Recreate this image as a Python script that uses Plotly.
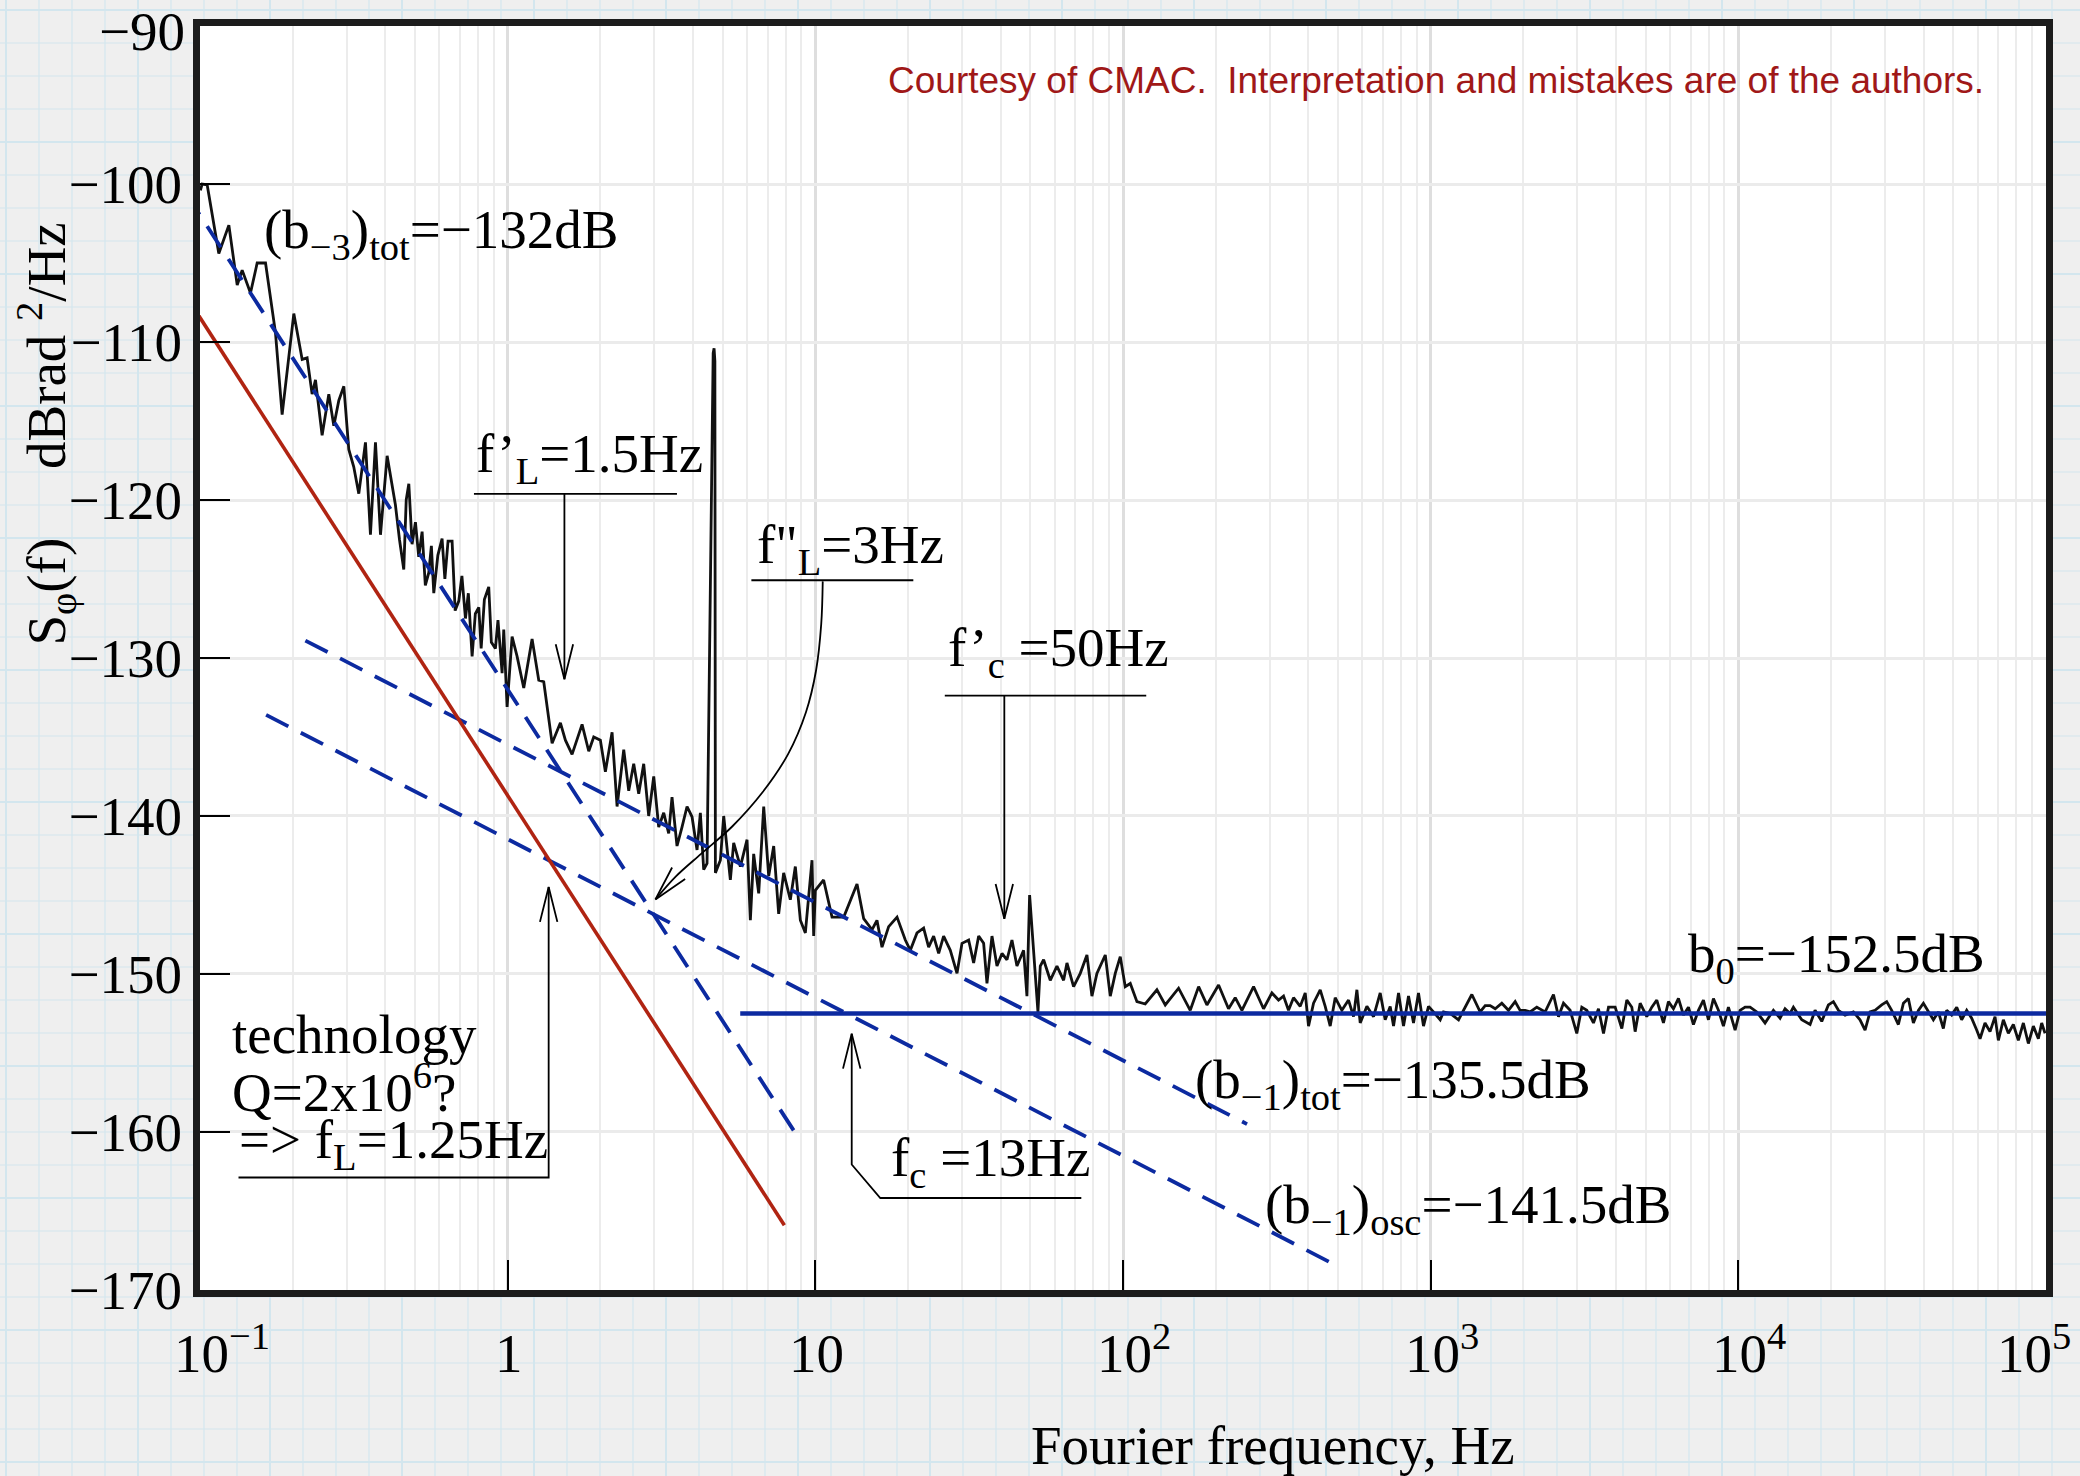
import plotly.graph_objects as go
import math

# ---------------- data ----------------
# Measured phase-noise spectrum S_phi(f)
freq_hz = [
    0.1003, 0.1016, 0.1055, 0.1151, 0.1241, 0.1321, 0.1371, 0.1459, 0.1534, 0.1633,
    0.1759, 0.1849, 0.2018, 0.2148, 0.2229, 0.2314, 0.2373, 0.2494, 0.2622, 0.2722,
    0.2826, 0.2934, 0.3045, 0.3160, 0.3282, 0.3450, 0.3581, 0.3718, 0.3860, 0.4057,
    0.4316, 0.4450, 0.4595, 0.4680, 0.4772, 0.4890, 0.5014, 0.5140, 0.5271, 0.5400,
    0.5541, 0.5650, 0.5752, 0.5930, 0.6121, 0.6250, 0.6400, 0.6597, 0.6750, 0.6935,
    0.7100, 0.7290, 0.7450, 0.7664, 0.7850, 0.8055, 0.8200, 0.8400, 0.8679, 0.8850,
    0.9124, 0.9300, 0.9592,
    0.9711, 0.9957, 1.0336, 1.0730, 1.1279, 1.2005, 1.2619, 1.3099, 1.3946, 1.4839,
    1.5404, 1.6192, 1.7452, 1.8345, 1.9043, 2.0013, 2.0779, 2.1846, 2.2676, 2.3838,
    2.4744, 2.5686, 2.6666, 2.7681, 2.8730, 2.9838, 3.0969, 3.2149, 3.3372, 3.4212,
    3.5515, 3.6867, 3.8282, 3.9739, 4.1257, 4.2297, 4.3362, 4.4463, 4.6550, 4.6870,
    4.7150, 4.7330, 4.9130, 5.0370, 5.2940, 5.4280, 5.7060, 5.9980, 6.1490, 6.3040,
    6.5450, 6.7950, 7.0540, 7.3230, 7.6010, 7.8900, 8.2930, 8.6100, 8.9400, 9.2800,
    9.754, 9.877, 10.0, 10.64, 11.33, 12.37, 13.66, 14.36, 15.29, 15.86,
    16.47, 17.31, 18.43, 19.61, 20.36, 21.40, 22.49, 23.35, 24.24, 25.17,
    26.12, 27.46, 28.87, 29.97, 31.50, 32.70, 33.95, 35.24, 36.13, 37.51,
    38.94, 40.43, 41.96, 43.56, 45.22, 47.53, 48.73, 49.71, 51.22, 52.91,
    53.84, 55.21, 58.02, 61.0, 64.12, 65.74, 69.09, 72.63, 76.35, 79.25,
    82.27, 87.58, 90.92, 94.38, 97.97, 101.7, 105.6,
    111.0, 118.1, 128.9, 137.2, 151.6, 165.4, 176.1, 187.4, 204.5, 220.3,
    231.6, 243.5, 265.7, 286.3, 304.8, 320.3, 332.5, 345.1, 358.3, 376.7,
    391.1, 400.9, 416.2, 437.5, 454.2, 471.5, 489.5, 514.5, 540.8, 561.5,
    575.7, 590.2, 620.4, 652.2, 685.5, 711.6, 738.7, 757.4, 786.3, 816.3,
    847.3, 879.6, 913.0, 947.8, 984.0, 1021, 1074,
    1101, 1157, 1232, 1279, 1361, 1448, 1504, 1561, 1621, 1703,
    1790, 1882, 1953, 2028, 2105, 2213, 2356, 2507, 2603, 2702,
    2840, 2985, 3099, 3217, 3382, 3511, 3646, 3785, 3978, 4181,
    4341, 4506, 4620, 4796, 5040, 5233, 5432, 5710, 5927, 6153,
    6388, 6632, 6884, 7147, 7419, 7702, 7995, 8300, 8616, 8944,
    9286, 9761, 10132, 10520,
    10920, 11480, 12215, 13002, 13668, 14187, 14729, 15101, 16073, 17110,
    17760, 18670, 19620, 20370, 21150, 22230, 23660, 24860, 25820, 26800,
    27820, 29240, 30360, 31510, 33130, 34400, 35700, 37070, 38480, 39950,
    41470, 43050, 44690, 46390, 47560, 49370, 51270, 53210, 55240, 57340,
    59530, 61040, 63360, 65780, 68290, 70010, 72680, 75450, 78320, 81320,
    84410, 87640, 90980, 94450, 96830, 99300,
]
level_db = [
    -100.4, -100.0, -100.05, -104.4, -102.6, -106.4, -105.45, -106.9, -105.0, -105.0,
    -109.4, -114.6, -108.2, -111.1, -111.0, -113.3, -112.4, -115.9, -113.3, -115.3,
    -113.7, -112.8, -116.8, -117.9, -119.6, -116.35, -122.2, -116.35, -122.2, -117.2,
    -120.3, -122.5, -124.4, -120.0, -118.97, -122.8, -121.4, -123.6, -122.0, -125.4,
    -124.6, -122.9, -125.9, -123.5, -122.45, -125.0, -122.6, -122.6, -127.0, -126.4,
    -124.8, -127.5, -125.9, -129.9, -127.2, -126.8, -129.4, -126.3, -125.5, -129.0,
    -129.4, -127.6, -130.96,
    -128.2, -133.1, -128.65, -129.9, -131.9, -128.8, -131.4, -131.5, -135.4, -134.1,
    -135.2, -136.1, -134.2, -135.9, -135.0, -135.2, -137.2, -134.7, -139.4, -135.8,
    -138.4, -136.7, -138.6, -136.7, -140.0, -137.5, -140.7, -139.8, -141.1, -138.8,
    -141.9, -140.7, -139.4, -140.05, -142.15, -139.8, -143.4, -143.0, -110.7, -110.4,
    -111.2, -143.6, -142.8, -140.0, -144.05, -141.7, -143.2, -141.5, -146.6, -142.4,
    -144.9, -139.4, -143.8, -141.9, -146.2, -143.6, -145.3, -143.2, -146.6, -147.4,
    -142.8, -147.6, -144.7, -144.05, -146.4, -146.4, -144.3, -146.5, -147.2, -146.6,
    -148.3, -147.0, -146.4, -147.85, -148.5, -147.4, -147.1, -148.3, -147.6, -148.7,
    -147.6, -148.5, -149.96, -148.06, -147.85, -149.3, -147.6, -148.06, -150.6, -147.6,
    -149.5, -148.7, -149.1, -147.85, -149.5, -148.5, -151.4, -145.0, -148.7, -152.4,
    -149.5, -149.1, -150.4, -149.5, -150.4, -149.3, -150.8, -149.96, -148.8, -151.4,
    -149.96, -148.8, -151.4, -149.96, -148.9, -150.8, -150.6,
    -151.75, -151.9, -151.0, -151.96, -150.9, -152.3, -150.8, -151.96, -150.7, -152.2,
    -151.5, -152.3, -150.8, -152.2, -151.2, -151.65, -151.4, -152.3, -151.5, -152.05,
    -151.2, -153.3, -151.85, -151.0, -152.05, -153.3, -151.5, -152.3, -151.65, -152.7,
    -151.0, -153.1, -152.05, -152.7, -151.2, -152.9, -152.05, -153.3, -151.2, -153.3,
    -151.4, -153.1, -151.2, -153.3, -152.05, -152.4, -152.9,
    -152.4, -152.5, -152.9, -152.3, -151.3, -152.4, -152.0, -152.0, -152.2, -151.85,
    -152.3, -151.75, -152.3, -152.3, -152.4, -152.1, -152.4, -151.3, -152.7, -151.85,
    -152.3, -153.76, -152.1, -152.3, -153.1, -152.2, -153.76, -152.1, -152.1, -153.45,
    -151.65, -152.1, -153.65, -151.85, -152.7, -152.1, -151.65, -153.1, -151.75, -152.2,
    -151.55, -152.6, -152.1, -153.2, -152.3, -151.65, -152.9, -151.55, -152.3, -153.3,
    -152.1, -153.55, -152.3, -152.1,
    -152.1, -152.4, -153.1, -152.3, -152.8, -152.2, -152.5, -152.1, -152.9, -153.2,
    -152.3, -153.0, -151.96, -151.75, -152.3, -152.6, -152.4, -152.9, -153.55, -152.4,
    -152.3, -151.96, -151.75, -152.3, -153.2, -151.85, -151.55, -153.1, -152.3, -151.85,
    -152.4, -152.9, -152.4, -153.45, -152.3, -152.6, -152.1, -152.9, -152.3, -152.8,
    -153.55, -154.1, -153.1, -153.65, -152.7, -154.2, -152.9, -153.76, -153.2, -154.2,
    -153.1, -154.4, -153.3, -154.1, -153.1, -153.76,
]

# Power-law asymptotes (end points)
b_m3_tot_f, b_m3_tot_db = [0.09, 8.5], [-100.6, -159.9]        # (b-3)tot = -132 dB
b_m1_tot_f, b_m1_tot_db = [0.22, 253], [-128.9, -159.5]        # (b-1)tot = -135.5 dB
b_m1_osc_f, b_m1_osc_db = [0.164, 488], [-133.6, -168.4]       # (b-1)osc = -141.5 dB
b_m3_osc_f, b_m3_osc_db = [0.0817, 7.93], [-105.8, -165.9]     # technology limit (red)
b0_f, b0_db = [5.7, 100000], [-152.5, -152.5]                  # b0 = -152.5 dB

# Axis ticks
x_tick_vals = [0.1, 1, 10, 100, 1000, 10000, 100000]
x_tick_text = ["10<sup>\u22121</sup>", "1", "10", "10<sup>2</sup>", "10<sup>3</sup>",
               "10<sup>4</sup>", "10<sup>5</sup>"]
y_tick_vals = [-170, -160, -150, -140, -130, -120, -110, -100, -90]

# Annotation leader lines (f in Hz, level in dB)
fpL_under_f, fpL_under_db = [0.777, 3.55], [-119.61, -119.61]
fpL_shaft_f, fpL_shaft_db = [1.529, 1.529], [-119.61, -131.34]
fppL_under_f, fppL_under_db = [6.196, 20.82], [-125.08, -125.08]
fppL_curve_f = [10.57, 10.45, 10.06, 9.322, 8.155, 6.736, 5.358, 4.262, 3.522, 3.022]
fppL_curve_db = [-125.15, -127.86, -130.76, -133.43, -136.08, -138.50, -140.68, -142.38, -143.82, -145.28]
fpc_under_f, fpc_under_db = [26.35, 119.0], [-132.38, -132.38]
fpc_shaft_f, fpc_shaft_db = [41.14, 41.14], [-132.38, -146.51]
fc_leader_f, fc_leader_db = [73.2, 16.26, 13.13, 13.13], [-164.18, -164.18, -162.06, -153.78]
fL_leader_f, fL_leader_db = [0.1334, 1.359, 1.359], [-162.88, -162.88, -144.49]

# ---------------- figure ----------------
SERIF = "Liberation Serif, Times New Roman, serif"
BLUE = "#0c2aa0"
RED = "#b02412"
FS = 55

W, H = 2080, 1476
L, R, T, B = 200, 34, 26, 186
pw, ph = W - L - R, H - T - B
PX_PER_DEC = pw / 6.0
PX_PER_DB = ph / 80.0


def v_head(f_tip, db_tip, f_from, db_from, length=36, half_angle=14):
    """Open V arrowhead at (f_tip, db_tip) pointing away from (f_from, db_from)."""
    dx = (math.log10(f_from) - math.log10(f_tip)) * PX_PER_DEC
    dy = (db_from - db_tip) * PX_PER_DB
    n = math.hypot(dx, dy)
    ux, uy = dx / n, dy / n
    fs, ds = [], []
    for s in (1, -1):
        a = math.radians(half_angle) * s
        rx = ux * math.cos(a) - uy * math.sin(a)
        ry = ux * math.sin(a) + uy * math.cos(a)
        fs.append(f_tip * 10 ** (length * rx / PX_PER_DEC))
        ds.append(db_tip + length * ry / PX_PER_DB)
    return [fs[0], f_tip, fs[1]], [ds[0], db_tip, ds[1]]


fig = go.Figure()

fig.add_trace(go.Scatter(x=freq_hz, y=level_db, mode="lines",
                         line=dict(color="#111111", width=2.8), hoverinfo="skip"))
for fx, fy in [(b_m3_tot_f, b_m3_tot_db), (b_m1_tot_f, b_m1_tot_db), (b_m1_osc_f, b_m1_osc_db)]:
    fig.add_trace(go.Scatter(x=fx, y=fy, mode="lines",
                             line=dict(color=BLUE, width=3.8, dash="25px,14px"), hoverinfo="skip"))
fig.add_trace(go.Scatter(x=b_m3_osc_f, y=b_m3_osc_db, mode="lines",
                         line=dict(color=RED, width=3.6), hoverinfo="skip"))
fig.add_trace(go.Scatter(x=b0_f, y=b0_db, mode="lines",
                         line=dict(color=BLUE, width=4.5), hoverinfo="skip"))

# leader lines
for fx, fy in [(fpL_under_f, fpL_under_db), (fpL_shaft_f, fpL_shaft_db),
               (fppL_under_f, fppL_under_db), (fpc_under_f, fpc_under_db),
               (fpc_shaft_f, fpc_shaft_db), (fc_leader_f, fc_leader_db),
               (fL_leader_f, fL_leader_db)]:
    fig.add_trace(go.Scatter(x=fx, y=fy, mode="lines",
                             line=dict(color="black", width=1.8), hoverinfo="skip"))
fig.add_trace(go.Scatter(x=fppL_curve_f, y=fppL_curve_db, mode="lines",
                         line=dict(color="black", width=1.8, shape="spline"), hoverinfo="skip"))

# open arrowheads
heads = [
    v_head(fpL_shaft_f[1], fpL_shaft_db[1], fpL_shaft_f[0], fpL_shaft_db[0]),
    v_head(fppL_curve_f[-1], fppL_curve_db[-1], fppL_curve_f[-2], fppL_curve_db[-2]),
    v_head(fpc_shaft_f[1], fpc_shaft_db[1], fpc_shaft_f[0], fpc_shaft_db[0]),
    v_head(fc_leader_f[-1], fc_leader_db[-1], fc_leader_f[-2], fc_leader_db[-2]),
    v_head(fL_leader_f[-1], fL_leader_db[-1], fL_leader_f[-2], fL_leader_db[-2]),
]
for hf, hd in heads:
    fig.add_trace(go.Scatter(x=hf, y=hd, mode="lines",
                             line=dict(color="black", width=1.8), hoverinfo="skip"))

annotations = []


def label(x_hz, y_db, text, size=FS, xanchor="left"):
    annotations.append(dict(x=math.log10(x_hz), y=y_db, xref="x", yref="y", text=text,
                            showarrow=False, xanchor=xanchor, yanchor="middle",
                            font=dict(family=SERIF, size=size, color="black")))


label(0.1585, -103.12, "(b<sub>\u22123</sub>)<sub>tot</sub>=\u2212132dB")
label(0.777, -117.31, "f\u2019<sub>L</sub>=1.5Hz")
label(6.366, -123.06, "f\"<sub>L</sub>=3Hz")
label(26.66, -129.61, "f\u2019<sub>c</sub> =50Hz")
label(17.40, -161.87, "f<sub>c</sub> =13Hz")
label(169.2, -156.94, "(b<sub>\u22121</sub>)<sub>tot</sub>=\u2212135.5dB")
label(285.6, -164.84, "(b<sub>\u22121</sub>)<sub>osc</sub>=\u2212141.5dB")
label(6765, -148.98, "b<sub>0</sub>=\u2212152.5dB")
label(0.1256, -153.84, "technology")
label(0.1256, -157.26, "Q=2x10<sup>6</sup>?")
label(0.1320, -160.73, "=> f<sub>L</sub>=1.25Hz")

# x tick labels: the "10" mantissa sits centred under each decade tick
x_label_shift = [-27, -14, -27, -27, -27, -27, -50]
for v, t, s in zip(x_tick_vals, x_tick_text, x_label_shift):
    annotations.append(dict(x=math.log10(v), y=-0.0752, xref="x", yref="paper", text=t,
                            showarrow=False, xanchor="left", yanchor="bottom", xshift=s,
                            borderpad=0, font=dict(family=SERIF, size=FS, color="black")))

# top y tick label kept inside the page
annotations.append(dict(x=-0.0076, y=1.0205, xref="paper", yref="paper",
                        text="\u2212%d" % abs(y_tick_vals[-1]), showarrow=False,
                        xanchor="right", yanchor="top", borderpad=0,
                        font=dict(family=SERIF, size=FS, color="black")))

annotations.append(dict(x=0.9675, y=0.9565, xref="paper", yref="paper",
                        text="Courtesy of CMAC.\u00a0\u00a0Interpretation and mistakes are of the authors.",
                        showarrow=False, xanchor="right", yanchor="middle",
                        font=dict(family="Liberation Sans, Arial, sans-serif", size=37, color="#a01818")))
annotations.append(dict(x=0.5815, y=-0.1234, xref="paper", yref="paper",
                        text="Fourier frequency, Hz", showarrow=False,
                        xanchor="center", yanchor="middle",
                        font=dict(family=SERIF, size=FS, color="black")))
annotations.append(dict(x=-0.0834, y=0.6768, xref="paper", yref="paper", textangle=-90,
                        text="S<sub>\u03c6</sub>(f)\u00a0\u00a0\u00a0\u00a0\u00a0dBrad\u00a0<sup>2</sup>/Hz",
                        showarrow=False, xanchor="center", yanchor="middle",
                        font=dict(family=SERIF, size=FS, color="black")))

# decorative graph-paper backdrop outside the plot area
shapes = []
for xpx in range(6, W, 33):
    xp = (xpx - L) / pw
    shapes.append(dict(type="line", xref="paper", yref="paper", x0=xp, x1=xp,
                       y0=-0.2, y1=1.1, layer="below",
                       line=dict(color="#d3e6ee", width=2 if (xpx // 33) % 4 == 0 else 1.2)))
for ypx in range(10, H, 33):
    yp = (H - B - ypx) / ph
    shapes.append(dict(type="line", xref="paper", yref="paper", x0=-0.2, x1=1.1,
                       y0=yp, y1=yp, layer="below",
                       line=dict(color="#d3e6ee", width=2 if (ypx // 33) % 4 == 0 else 1.2)))
shapes.append(dict(type="rect", xref="paper", yref="paper", x0=0, x1=1, y0=0, y1=1,
                   layer="below", fillcolor="white", line=dict(width=0)))

minor_vals = [m * 10 ** e for e in range(-1, 5) for m in range(2, 10)]
y_tick_text = ["\u2212%d" % abs(v) for v in y_tick_vals[:-1]] + [""]

fig.update_layout(
    width=W, height=H,
    margin=dict(l=L, r=R, t=T, b=B, autoexpand=False),
    paper_bgcolor="#efefef", plot_bgcolor="white",
    showlegend=False, hovermode=False,
    font=dict(family=SERIF, size=FS, color="black"),
    annotations=annotations, shapes=shapes,
)
fig.update_xaxes(type="log", range=[-1.00002, 5.00002], tickmode="array", tickvals=x_tick_vals,
                 showticklabels=False, ticks="inside", ticklen=30, tickwidth=2,
                 tickcolor="black", showline=True, linewidth=7, linecolor="#1c1c1c",
                 mirror=True, showgrid=True, gridcolor="#dedede", gridwidth=2.5,
                 zeroline=False, automargin=False,
                 minor=dict(tickmode="array", tickvals=minor_vals, showgrid=True,
                            gridcolor="#ececec", gridwidth=2, ticks=""))
fig.update_yaxes(range=[-170.002, -89.998], tickmode="array", tickvals=y_tick_vals,
                 ticktext=y_tick_text,
                 ticks="inside", ticklen=30, tickwidth=2, tickcolor="black",
                 showline=True, linewidth=7, linecolor="#1c1c1c", mirror=True,
                 showgrid=True, gridcolor="#ebebeb", gridwidth=3, zeroline=False,
                 automargin=False,
                 tickfont=dict(family=SERIF, size=FS, color="black"))

fig.write_html("out.html", config={"displayModeBar": False})
